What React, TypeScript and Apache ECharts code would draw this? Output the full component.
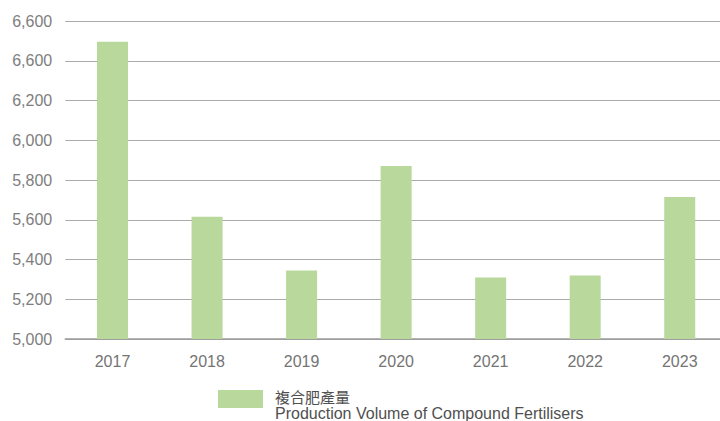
import React, { useEffect, useRef } from "react";
import * as echarts from "echarts";

const years = ["2017", "2018", "2019", "2020", "2021", "2022", "2023"];
const production = [6495, 5615, 5345, 5870, 5310, 5320, 5715];
const yTickLabels = ["5,000", "5,200", "5,400", "5,600", "5,800", "6,000", "6,200", "6,600", "6,600"];
const legendZh = "複合肥產量";
const legendEn = "Production Volume of Compound Fertilisers";

const BAR = "#b9d89b";
const FONT = "'Liberation Sans', Arial, sans-serif";

export default function App() {
  const ref = useRef<HTMLDivElement>(null);
  useEffect(() => {
    document.body.style.margin = "0";
    const chart = echarts.init(ref.current!, null, { renderer: "svg" });
    chart.setOption({
      animation: false,
      backgroundColor: "#ffffff",
      grid: { left: 65.25, top: 21, right: 0, bottom: 82, containLabel: false },
      xAxis: {
        type: "category",
        data: years,
        axisLine: { show: true, lineStyle: { color: "#9a9a9a", width: 1.5 } },
        axisTick: { show: false },
        axisLabel: { color: "#747474", fontSize: 16, fontFamily: FONT, margin: 14 },
      },
      yAxis: {
        type: "value",
        min: 5000,
        max: 6600,
        interval: 200,
        axisLine: { show: false },
        axisTick: { show: false },
        splitLine: { lineStyle: { color: "#ababab", width: 1 } },
        axisLabel: {
          color: "#7e7e7e",
          fontSize: 16,
          fontFamily: FONT,
          margin: 13,
          formatter: (v: number) => {
            const i = Math.round((v - 5000) / 200);
            return yTickLabels[i] ?? "";
          },
        },
      },
      series: [
        {
          type: "bar",
          name: legendEn,
          data: production,
          barWidth: 31,
          itemStyle: { color: BAR },
        },
      ],
      graphic: [
        { type: "rect", x: 218, y: 390, shape: { x: 0, y: 0, width: 45, height: 18 }, style: { fill: BAR } },
        {
          type: "text",
          x: 275,
          y: 396,
          style: {
            text: legendZh,
            fill: "#505050",
            fontSize: 15,
            lineHeight: 14,
            fontFamily: "'Noto Sans CJK TC', sans-serif",
            verticalAlign: "middle",
          },
        },
        {
          type: "text",
          x: 275,
          y: 413.5,
          style: {
            text: legendEn,
            fill: "#505050",
            fontSize: 16,
            lineHeight: 15,
            fontFamily: FONT,
            verticalAlign: "middle",
          },
        },
      ],
    });
    return () => chart.dispose();
  }, []);
  return (
    <div style={{ width: 720, height: 421, position: "absolute", left: 0, top: 0, overflow: "hidden" }}>
      <div ref={ref} style={{ width: 727, height: 421 }} />
    </div>
  );
}
